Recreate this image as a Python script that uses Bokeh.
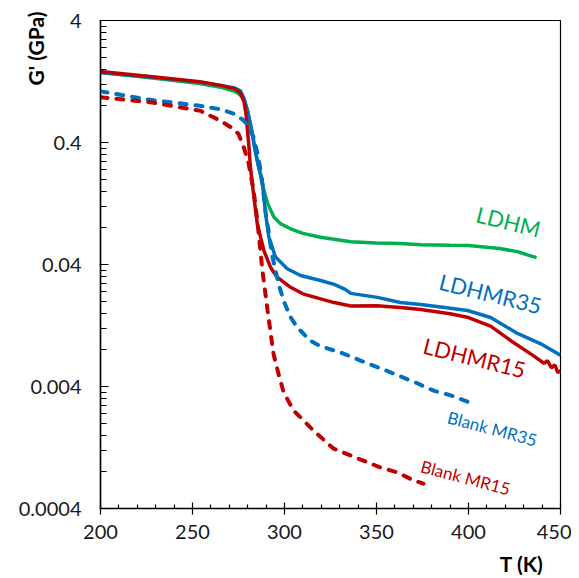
import math
from bokeh.plotting import figure
from bokeh.models import FixedTicker, Label, Range1d, Title
from bokeh.embed import file_html
from bokeh.resources import INLINE

# ---------------- data ----------------
ldhm_T = [200, 227, 254, 266, 273, 276, 278, 280, 282, 284, 286, 287.5, 288.8, 291, 294.2, 298,
          303.3, 310, 319.6, 336, 350, 363, 374, 390, 400, 417, 426.6, 432, 437]
ldhm_G = [1.50, 1.36, 1.22, 1.13, 1.05, 0.98, 0.90, 0.72, 0.52, 0.36, 0.25, 0.20, 0.162, 0.125, 0.098, 0.086,
          0.0785, 0.072, 0.067, 0.0615, 0.060, 0.0594, 0.058, 0.0575, 0.0573, 0.054, 0.051, 0.048, 0.0456]

ldhmr35_T = [200, 227, 254, 266, 273, 276, 278, 280, 282, 284.2, 286, 287.9, 289.7, 291.5, 295.1, 301.5,
             308.7, 319.6, 327, 333, 336, 350.5, 363, 374, 387, 399.5, 412, 426.6, 439, 450]
ldhmr35_G = [1.50, 1.38, 1.25, 1.17, 1.12, 1.06, 0.92, 0.72, 0.52, 0.33, 0.25, 0.195, 0.105, 0.067, 0.046, 0.0369,
             0.0325, 0.0296, 0.0275, 0.0250, 0.0232, 0.0215, 0.0195, 0.0188, 0.0178, 0.0168, 0.0147, 0.0109, 0.0090, 0.0072]

ldhmr15_T = [200, 227, 254, 266, 273, 276, 278, 279, 280.5, 281.5, 283, 285.2, 288.8, 292.4, 296, 303.3,
             310, 319.6, 327, 336, 350, 363, 374, 390, 400, 412, 423, 435, 441, 443, 445, 447, 448.5, 450]
ldhmr15_G = [1.53, 1.39, 1.26, 1.17, 1.10, 1.02, 0.86, 0.70, 0.40, 0.25, 0.16, 0.086, 0.052, 0.038, 0.0315, 0.026,
             0.023, 0.0209, 0.0195, 0.0183, 0.0184, 0.0178, 0.0171, 0.0158, 0.0147, 0.0125, 0.0095, 0.0072, 0.0062,
             0.0065, 0.0057, 0.0060, 0.0052, 0.0054]

blank35_T = [200, 227, 254, 265, 272.3, 277, 280, 283.2, 285.3, 287, 288.6, 290, 291.3, 293, 295.1, 297,
             299.5, 303, 307, 314, 318, 323.4, 332, 341.3, 350, 359.2, 372.3, 381, 390, 399.5]
blank35_G = [1.05, 0.895, 0.80, 0.75, 0.69, 0.62, 0.56, 0.44, 0.325, 0.236, 0.153, 0.10, 0.076, 0.05, 0.0357, 0.027,
             0.0203, 0.015, 0.0122, 0.0095, 0.0088, 0.0082, 0.00745, 0.00653, 0.0058, 0.00511, 0.00424, 0.0037, 0.0034, 0.0030]

blank15_T = [200, 227, 254, 265, 272, 275, 278, 280.5, 283.2, 285.3, 288, 290.8, 294, 296.7, 299.5, 304.9,
             308.7, 315.8, 326.6, 339.7, 352.2, 361.4, 370.1, 375.5]
blank15_G = [0.94, 0.855, 0.73, 0.605, 0.52, 0.47, 0.36, 0.27, 0.162, 0.09, 0.0357, 0.0168, 0.00745, 0.0051, 0.0036,
             0.00254, 0.00223, 0.00174, 0.00124, 0.00103, 0.000867, 0.00079, 0.00068, 0.00064]

x_ticks = [200, 250, 300, 350, 400, 450]
y_ticks = [0.0004, 0.004, 0.04, 0.4, 4]
y_tick_labels = ["0.0004", "0.004", "0.04", "0.4", "4"]

series_names = ["LDHM", "LDHMR35", "LDHMR15", "Blank MR35", "Blank MR15"]
x_title = "T (K)"
y_title = "G' (GPa)"

GREEN = "#00B050"
BLUE = "#0070C0"
RED = "#C00000"
FONT = "Lato"

# ---------------- figure ----------------
p = figure(frame_width=460, frame_height=488, y_axis_type="log",
           x_range=Range1d(200, 450), y_range=Range1d(0.0004, 4),
           output_backend="svg", toolbar_location=None,
           min_border_left=100, min_border_right=11, min_border_top=20, min_border_bottom=70)

p.xgrid.visible = False
p.ygrid.visible = False
p.outline_line_color = "black"
p.outline_line_width = 1.2
p.background_fill_color = "white"
p.border_fill_color = "white"

minor_x = [t for t in range(210, 450, 10) if t % 50 != 0]
p.xaxis.ticker = FixedTicker(ticks=x_ticks, minor_ticks=minor_x)
minor_y = [m * k for m in y_ticks[:-1] for k in range(2, 10)]
p.yaxis.ticker = FixedTicker(ticks=y_ticks, minor_ticks=minor_y)
p.yaxis.major_label_overrides = {v: s for v, s in zip(y_ticks, y_tick_labels)}

for ax in (p.xaxis, p.yaxis):
    ax.axis_line_color = "black"
    ax.axis_line_width = 1.5
    ax.major_tick_line_color = "black"
    ax.minor_tick_line_color = "black"
    ax.major_tick_line_width = 1.2
    ax.minor_tick_line_width = 1.2
    ax.major_label_text_font = FONT
    ax.major_label_text_font_size = "20px"
    ax.major_label_text_color = "#1a1a1a"

p.xaxis.major_tick_in = 6
p.xaxis.major_tick_out = 6
p.xaxis.minor_tick_in = 4
p.xaxis.minor_tick_out = 0
p.xaxis.major_label_standoff = 10

p.yaxis.major_tick_in = 8
p.yaxis.major_tick_out = 1
p.yaxis.minor_tick_in = 6
p.yaxis.minor_tick_out = 0
p.yaxis.major_label_standoff = 18

# ---------------- axis titles ----------------
# trailing no-break spaces push the end-aligned title down from the top edge
yax = p.yaxis[0]
yax.axis_label = y_title + "\u00a0" * 11
yax.axis_label_text_font = FONT
yax.axis_label_text_font_size = "21px"
yax.axis_label_text_font_style = "bold"
yax.axis_label_text_color = "black"
yax.axis_label_standoff = -32
for a in ("end", "right"):
    try:
        yax.axis_label_align = a
        break
    except Exception:
        pass

p.add_layout(Title(text=x_title, align="right", text_font=FONT, text_font_size="21px",
                   text_font_style="bold", text_color="black", offset=17, standoff=14), "below")

# ---------------- lines ----------------
p.line(ldhm_T, ldhm_G, line_color=GREEN, line_width=3.5)
p.line(ldhmr35_T, ldhmr35_G, line_color=BLUE, line_width=3.5)
p.line(ldhmr15_T, ldhmr15_G, line_color=RED, line_width=3.5)
p.line(blank35_T, blank35_G, line_color=BLUE, line_width=4, line_dash="7 9", line_cap="round")
p.line(blank15_T, blank15_G, line_color=RED, line_width=4, line_dash="7 9", line_cap="round")

# ---------------- series labels ----------------
lab_pos = [(421.7, 0.09, GREEN, "22px", -14),
           (412.0, 0.0231, BLUE, "22px", -14),
           (403.3, 0.0069, RED, "22px", -14),
           (413.0, 0.00181, BLUE, "17px", -15),
           (398.4, 0.000718, RED, "17px", -15)]
for name, (x, y, c, fs, ang) in zip(series_names, lab_pos):
    p.add_layout(Label(x=x, y=y, text=name, text_color=c, text_font=FONT,
                       text_font_size=fs, angle=math.radians(ang),
                       text_align="center", text_baseline="middle"))

open("out.html", "w").write(file_html(p, INLINE))
